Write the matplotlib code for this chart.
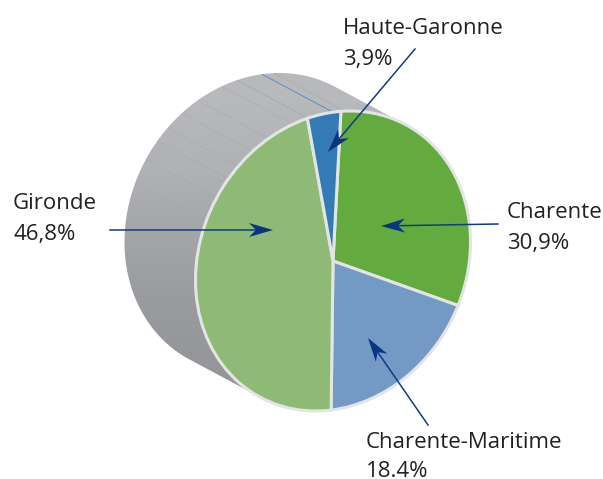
import matplotlib
matplotlib.use("Agg")
import matplotlib.pyplot as plt
import numpy as np
from matplotlib.patches import Polygon
from matplotlib.transforms import Affine2D

names = ['Charente', 'Charente-Maritime', 'Gironde', 'Haute-Garonne']
values = [30.9, 18.4, 46.8, 3.9]
labels = ['30,9%', '18.4%', '46,8%', '3,9%']
colors = ['#63ab3e', '#7499c4', '#8fba75', '#337ab7']

# tilted disc, pixels with y going down
A = np.array([[137.5, 0.0], [-19.0, -148.8]])
cx, cy = 333, 261
dx, dy = -71, -38

plt.rcParams['font.family'] = ['Open Sans', 'DejaVu Sans']
fig = plt.figure(figsize=(6.03, 4.79), dpi=100)
ax = fig.add_axes([0, 0, 1, 1])

wedges, _ = ax.pie(values, colors=colors, startangle=86.7, counterclock=False,
                   wedgeprops=dict(edgecolor='#e2e5e4', linewidth=2.2))
disc = Affine2D.from_values(A[0, 0], A[1, 0], A[0, 1], A[1, 1], cx, cy)
for w in wedges:
    w.set_transform(disc + ax.transData)
    w.set_zorder(4)


def front_point(deg):
    t = np.radians(deg)
    return A @ np.array([np.sin(t), np.cos(t)])


# side of the cylinder
deg = np.arange(0, 360, 1.0)
pts = np.array([front_point(d) for d in deg])
n = np.array([-dy, dx])
pts = np.roll(pts, -np.argmax(pts @ n), axis=0)
outer = pts @ np.array([dx, dy]) >= 0
body = pts + [cx, cy] + outer[:, None] * np.array([dx, dy])
side = Polygon(body, closed=True, facecolor='none', edgecolor='none')
ax.add_patch(side)
grad = np.array([[0xb8, 0xb9, 0xbc], [0xb1, 0xb2, 0xb5], [0xa4, 0xa5, 0xa8],
                 [0x9a, 0x9b, 0x9e], [0x95, 0x96, 0x99]]) / 255
im = ax.imshow(grad[:, None, :], extent=(100, 480, 400, 70), aspect='auto',
               interpolation='bilinear', zorder=1)
im.set_clip_path(side)

stripe_deg = [-67, -57.6, -49.5, -43.5, -35.7, -27.9, -17, -10.5, 0, 5]
stripe_col = ['#a3a89f'] * 7 + ['#93a4b8', '#5585b8', '#a3ae98']
stripe_w = [0.3] * 7 + [0.4, 0.6, 0.4]
for d, c, lw in zip(stripe_deg, stripe_col, stripe_w):
    p = front_point(d)
    ax.plot([cx + p[0], cx + p[0] + dx], [cy + p[1], cy + p[1] + dy],
            color=c, lw=lw, zorder=2, solid_capstyle='butt')


def arrow(x0, y0, x1, y1):
    v = np.array([x1 - x0, y1 - y0], dtype=float)
    v /= np.hypot(*v)
    w = np.array([-v[1], v[0]])
    tip = np.array([x1, y1])
    ax.plot([x0, x1 - v[0] * 15], [y0, y1 - v[1] * 15], color='#0f3c82', lw=1.1, zorder=6)
    head = [tip, tip - 24 * v + 7 * w, tip - 17 * v, tip - 24 * v - 7 * w]
    ax.add_patch(Polygon(head, closed=True, facecolor='#0a357f', edgecolor='none', zorder=7))


arrow(498, 224, 381, 226)
arrow(428, 425, 368, 338)
arrow(110, 230, 273, 230)
arrow(415, 49, 328, 152)

name_xy = [(507, 218), (366, 448), (13, 209), (343, 34)]
value_xy = [(507, 249), (366, 477), (13, 240), (343, 65)]
for nm, lab, p, q in zip(names, labels, name_xy, value_xy):
    ax.text(p[0], p[1], nm, fontsize=16, color='#222120', va='baseline', ha='left', zorder=8)
    ax.text(q[0], q[1], lab, fontsize=16, color='#222120', va='baseline', ha='left', zorder=8)

ax.set_aspect('auto')
ax.set_xlim(0, 603)
ax.set_ylim(479, 0)
ax.axis('off')
fig.savefig('out.png', dpi=100, facecolor='white')
